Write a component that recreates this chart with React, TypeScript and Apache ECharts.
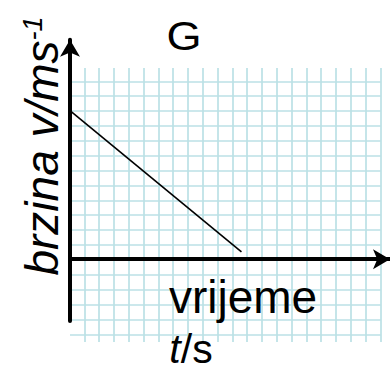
import React, { useEffect, useRef } from "react";
import * as echarts from "echarts";

// Data (in grid-cell units, origin at the axes' crossing)
const timeValues = [0, 11.75];
const speedValues = [10, 0.5];

// Labels
const panelLabel = "G";
const xAxisWord = "vrijeme";
const xAxisUnitVar = "t";
const xAxisUnit = "/s";
const yAxisLabel = "brzina v/ms";
const yAxisSup = "-1";

const FONT = "'Liberation Sans', Arial, Helvetica, sans-serif";
const GRID_COLOR = "#bbe1e6";

export default function App() {
  const ref = useRef<HTMLDivElement>(null);

  useEffect(() => {
    if (!ref.current) return;
    const chart = echarts.init(ref.current, undefined, { renderer: "svg" });
    const gridLine = { show: true, lineStyle: { color: GRID_COLOR, width: 1.7 } };
    const hidden = { show: false };
    const blackAxis = {
      show: true,
      onZero: true,
      symbol: ["none", "arrow"],
      symbolSize: [15, 17],
      lineStyle: { color: "#000", width: 4 },
    };
    chart.setOption({
      animation: false,
      backgroundColor: "#fff",
      grid: [
        { left: 84.3, right: 9.7, top: 68, bottom: 29 },
        { left: 70, right: 9, top: 81.3, bottom: 36.7 },
        { left: 70, right: -4.5, top: 39.7, bottom: 50 },
      ],
      xAxis: [
        {
          gridIndex: 0, type: "value", min: 0, max: 20, interval: 1,
          axisLine: hidden, axisTick: hidden, axisLabel: hidden, splitLine: gridLine,
        },
        { gridIndex: 1, type: "value", show: false, min: 0, max: 1 },
        {
          gridIndex: 2, type: "value", min: 0, max: 21.93,
          axisLine: blackAxis, axisTick: hidden, axisLabel: hidden, splitLine: hidden,
        },
      ],
      yAxis: [
        { gridIndex: 0, type: "value", show: false, min: 0, max: 1 },
        {
          gridIndex: 1, type: "value", min: 0, max: 17, interval: 1,
          axisLine: hidden, axisTick: hidden, axisLabel: hidden, splitLine: gridLine,
        },
        {
          gridIndex: 2, type: "value", min: -4.16, max: 14.78,
          axisLine: blackAxis, axisTick: hidden, axisLabel: hidden, splitLine: hidden,
        },
      ],
      series: [
        {
          type: "line",
          xAxisIndex: 2,
          yAxisIndex: 2,
          data: timeValues.map((t, i) => [t, speedValues[i]]),
          symbol: "none",
          lineStyle: { color: "#000", width: 1.6 },
          z: 5,
        },
      ],
      graphic: [
        {
          type: "text",
          x: 184,
          y: 36,
          scaleX: 1.1,
          style: {
            text: panelLabel,
            fontSize: 41,
            fontFamily: FONT,
            fill: "#000",
            align: "center",
            verticalAlign: "middle",
          },
        },
        {
          type: "text",
          x: 243,
          y: 297,
          z: 10,
          style: {
            text: xAxisWord,
            fontSize: 46,
            fontFamily: FONT,
            fill: "#000",
            align: "center",
            verticalAlign: "middle",
          },
        },
        {
          type: "text",
          x: 191,
          y: 349,
          z: 10,
          style: {
            text: `{i|${xAxisUnitVar}}{n|${xAxisUnit}}`,
            align: "center",
            verticalAlign: "middle",
            rich: {
              i: { fontSize: 41, fontFamily: FONT, fontStyle: "italic", fill: "#000" },
              n: { fontSize: 41, fontFamily: FONT, fill: "#000" },
            },
          },
        },
        {
          type: "text",
          x: 42,
          y: 146,
          rotation: Math.PI / 2,
          z: 10,
          style: {
            text: `{a|${yAxisLabel}}{s|${yAxisSup}}`,
            align: "center",
            verticalAlign: "middle",
            rich: {
              a: { fontSize: 46, fontFamily: FONT, fontStyle: "italic", fill: "#000", lineHeight: 46 },
              s: { fontSize: 27, fontFamily: FONT, fontStyle: "italic", fill: "#000", verticalAlign: "top", lineHeight: 46 },
            },
          },
        },
      ],
    });
    return () => chart.dispose();
  }, []);

  return (
    <div
      ref={ref}
      style={{ position: "fixed", left: 0, top: 0, width: 390, height: 371, background: "#fff" }}
    />
  );
}
